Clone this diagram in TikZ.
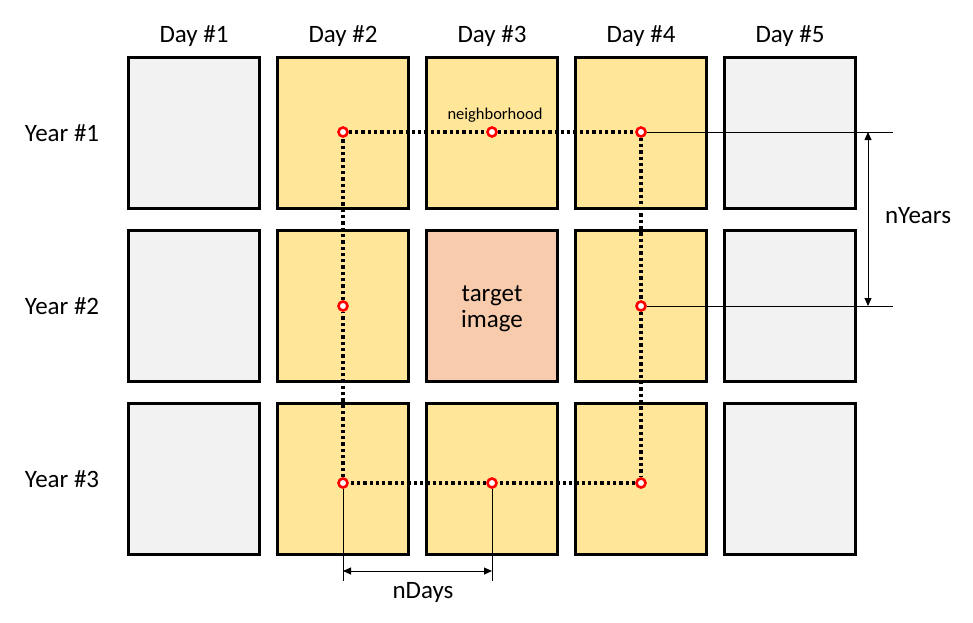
\documentclass[tikz,border=0pt]{standalone}
\usepackage{fontspec}
\setmainfont{Carlito}
\usetikzlibrary{arrows.meta}
\definecolor{cellgray}{HTML}{F2F2F2}
\definecolor{cellyellow}{HTML}{FFE699}
\definecolor{celltarget}{HTML}{F8CBAD}
\tikzset{
	cell/.style={draw, line width=3pt, minimum width=131pt, minimum height=151pt, inner sep=0pt},
	pix/.style={circle, draw=red, fill=white, line width=2.6pt, minimum size=9pt, inner sep=0pt},
	hood/.style={line width=3.3pt, dash pattern=on 3.3pt off 3pt},
	dimline/.style={line width=0.9pt},
	dimarrow/.style={line width=0.9pt, {Triangle[length=8pt,width=7pt]}-{Triangle[length=8pt,width=7pt]}},
	biglabel/.style={font=\fontsize{25}{26}\selectfont, inner sep=0pt}
}

\begin{document}
\begin{tikzpicture}[x=1pt, y=-1pt]
	\useasboundingbox (0,0) rectangle (973,622);
	% grid of images
	\foreach \r/\ry/\mid in {1/133/cellyellow, 2/306/celltarget, 3/479/cellyellow}{
		\node[cell, fill=cellgray] (c1\r) at (194,\ry) {};
		\node[cell, fill=cellyellow] (c2\r) at (343,\ry) {};
		\node[cell, fill=\mid] (c3\r) at (492,\ry) {};
		\node[cell, fill=cellyellow] (c4\r) at (641,\ry) {};
		\node[cell, fill=cellgray] (c5\r) at (790,\ry) {};
		\node[biglabel] (year\r) at (62,\ry) {Year \#\r};
	}
	\foreach \c/\cx in {1/194, 2/343, 3/492, 4/641, 5/790}
		\node[biglabel] (day\c) at (\cx,36) {Day \#\c};
	\node[biglabel, align=center] (target) at (492,309) {target\\image};
	% neighborhood pixels
	\node[pix] (p11) at (343,132) {};
	\node[pix] (p21) at (492,132) {};
	\node[pix] (p31) at (641,132) {};
	\node[pix] (p12) at (343,306) {};
	\node[pix] (p32) at (641,306) {};
	\node[pix] (p13) at (343,483) {};
	\node[pix] (p23) at (492,483) {};
	\node[pix] (p33) at (641,483) {};
	\draw[hood] (p11) -- (p21);
	\draw[hood] (p21) -- (p31);
	\draw[hood] (p31) -- (p32);
	\draw[hood] (p32) -- (p33);
	\draw[hood] (p33) -- (p23);
	\draw[hood] (p23) -- (p13);
	\draw[hood] (p13) -- (p12);
	\draw[hood] (p12) -- (p11);
	\node[font=\fontsize{16.5}{18}\selectfont, inner sep=0pt] (hoodlabel) at (495,115) {neighborhood};
	% nYears
	\coordinate (ye1) at (893,132);
	\coordinate (ye2) at (893,306);
	\coordinate (ya1) at (868,132);
	\coordinate (ya2) at (868,306);
	\draw[dimline] (p31) -- (ye1);
	\draw[dimline] (p32) -- (ye2);
	\draw[dimarrow] (ya1) -- (ya2);
	\node[biglabel] (nyears) at (918,216) {nYears};
	% nDays
	\coordinate (de1) at (343,581);
	\coordinate (de2) at (492,581);
	\coordinate (da1) at (343,571);
	\coordinate (da2) at (492,571);
	\draw[dimline] (p13) -- (de1);
	\draw[dimline] (p23) -- (de2);
	\draw[dimarrow] (da1) -- (da2);
	\node[biglabel] (ndays) at (423,592) {nDays};
\end{tikzpicture}
\end{document}
